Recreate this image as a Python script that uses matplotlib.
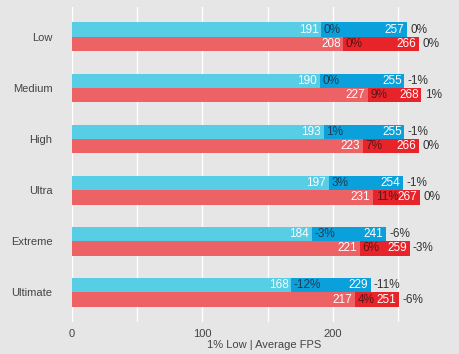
import matplotlib.pyplot as plt
import numpy as np

plt.rcParams['font.family'] = ['Liberation Sans', 'DejaVu Sans']

presets = ['Low', 'Medium', 'High', 'Ultra', 'Extreme', 'Ultimate']
# blue series
blue_low = [191, 190, 193, 197, 184, 168]
blue_avg = [257, 255, 255, 254, 241, 229]
blue_low_pct = ['0%', '0%', '1%', '3%', '-3%', '-12%']
blue_avg_pct = ['0%', '-1%', '-1%', '-1%', '-6%', '-11%']
# red series
red_low = [208, 227, 223, 231, 221, 217]
red_avg = [266, 268, 266, 267, 259, 251]
red_low_pct = ['0%', '9%', '7%', '11%', '6%', '4%']
red_avg_pct = ['0%', '1%', '0%', '0%', '-3%', '-6%']

bg = '#e6e6e6'
fig = plt.figure(figsize=(4.6, 3.54), dpi=100, facecolor=bg)
ax = fig.add_axes([0.1565, 0.09, 0.835, 0.89], facecolor=bg)

y = np.arange(len(presets))
h = 0.28
fs = 8
bfs = 8.5

series = [
    (y - h / 2, blue_low, blue_avg, blue_low_pct, blue_avg_pct, '#57cde6', '#0aa0dc', '#1d3d50'),
    (y + h / 2, red_low, red_avg, red_low_pct, red_avg_pct, '#ec6265', '#e8242b', '#5a1518'),
]
for yy, lo, av, lp, ap, c1, c2, tc in series:
    lo = np.array(lo)
    av = np.array(av)
    ax.barh(yy, lo, height=h, color=c1, edgecolor='none', zorder=2)
    ax.barh(yy, av - lo, left=lo, height=h, color=c2, edgecolor='none', zorder=2)
    for i in range(len(yy)):
        ax.text(lo[i] - 2, yy[i], str(lo[i]), color='white', fontsize=bfs,
                ha='right', va='center', zorder=3)
        ax.text(lo[i] + 2, yy[i], lp[i], color=tc, fontsize=bfs,
                ha='left', va='center', zorder=3)
        ax.text(av[i] - 2, yy[i], str(av[i]), color='white', fontsize=bfs,
                ha='right', va='center', zorder=3)
        ax.text(av[i] + 2.5, yy[i], ap[i], color='#333333', fontsize=bfs,
                ha='left', va='center', zorder=3)

ax.set_xlim(0, 294.6)
ax.set_ylim(5.58, -0.58)
ax.set_yticks(y)
ax.set_yticklabels(presets)
ax.set_xticks([0, 100, 200])
ax.set_xticks([50, 150, 250], minor=True)
ax.grid(axis='x', which='both', color='white', linewidth=1, zorder=1)
ax.tick_params(axis='both', which='both', length=0, labelsize=fs, labelcolor='#444444')
ax.tick_params(axis='y', pad=14)
ax.tick_params(axis='x', pad=5)
for s in ax.spines.values():
    s.set_visible(False)
ax.set_xlabel('1% Low | Average FPS', fontsize=fs, color='#444444', labelpad=1)

fig.savefig('out.png', dpi=100, facecolor=bg)
